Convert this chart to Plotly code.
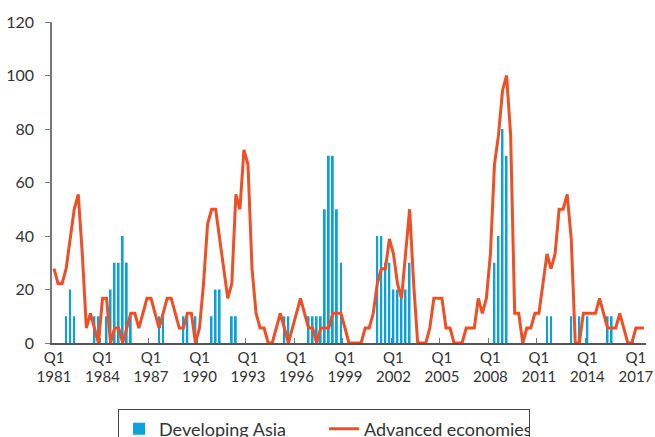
import plotly.graph_objects as go

# Quarterly categories 1981Q1 .. 2017Q3
quarters = [f"Q{q}<br>{y}" for y in range(1981, 2018) for q in range(1, 5)][:147]

# Advanced economies (share of economies, %), one row per 3 years
advanced = [
    27.8, 22.2, 22.2, 27.8, 38.9, 50.0, 55.6, 33.3, 5.6, 11.1, 5.6, 0,
    16.7, 16.7, 0, 5.6, 5.6, 0, 5.6, 11.1, 11.1, 5.6, 11.1, 16.7,
    16.7, 11.1, 5.6, 11.1, 16.7, 16.7, 11.1, 5.6, 5.6, 11.1, 11.1, 0,
    5.6, 22.2, 44.4, 50.0, 50.0, 38.9, 27.8, 16.7, 22.2, 55.6, 50.0, 72.2,
    66.7, 27.8, 11.1, 5.6, 5.6, 0, 0, 5.6, 11.1, 5.6, 0, 5.6,
    11.1, 16.7, 11.1, 5.6, 5.6, 0, 5.6, 5.6, 5.6, 11.1, 11.1, 11.1,
    5.6, 0, 0, 0, 0, 5.6, 5.6, 11.1, 22.2, 27.8, 27.8, 38.9,
    33.3, 22.2, 16.7, 33.3, 50.0, 22.2, 0, 0, 0, 5.6, 16.7, 16.7,
    16.7, 5.6, 5.6, 0, 0, 0, 5.6, 5.6, 5.6, 16.7, 11.1, 16.7,
    33.3, 66.7, 77.8, 94.4, 100.0, 77.8, 11.1, 11.1, 0, 5.6, 5.6, 11.1,
    11.1, 22.2, 33.3, 27.8, 33.3, 50.0, 50.0, 55.6, 38.9, 0, 0, 11.1,
    11.1, 11.1, 11.1, 16.7, 11.1, 5.6, 5.6, 5.6, 11.1, 5.6, 0, 0,
    5.6, 5.6, 5.6,
]

# Developing Asia (share of economies, %)
developing_asia = [
    0, 0, 0, 10, 20, 10, 0, 0, 0, 0, 10, 10,
    0, 10, 20, 30, 30, 40, 30, 10, 0, 0, 0, 0,
    0, 0, 10, 10, 0, 0, 0, 0, 10, 10, 0, 10,
    0, 0, 0, 10, 20, 20, 0, 0, 10, 10, 0, 0,
    0, 0, 0, 0, 0, 0, 0, 0, 0, 10, 10, 0,
    0, 0, 0, 10, 10, 10, 10, 50, 70, 70, 50, 30,
    0, 0, 0, 0, 0, 0, 0, 0, 40, 40, 30, 30,
    20, 20, 20, 20, 30, 0, 0, 0, 0, 0, 0, 0,
    0, 0, 0, 0, 0, 0, 0, 0, 0, 0, 0, 0,
    0, 30, 40, 80, 70, 0, 0, 0, 0, 0, 0, 0,
    0, 0, 10, 10, 0, 0, 0, 0, 10, 0, 10, 0,
    10, 0, 0, 0, 0, 10, 10, 0, 0, 0, 0, 0,
    0, 0, 0,
]

y_ticks = [0, 20, 40, 60, 80, 100, 120]

FONT = "Lato, 'Open Sans', sans-serif"
TEXT = "#333333"

fig = go.Figure()
fig.add_trace(go.Bar(
    x=quarters, y=developing_asia, name="Developing Asia",
    marker=dict(color="#0aa2da", line=dict(width=0)), width=0.45,
))
fig.add_trace(go.Scatter(
    x=quarters, y=advanced, name="Advanced economies", mode="lines",
    line=dict(color="#ee4f24", width=3),
))

fig.update_layout(
    width=655, height=437,
    margin=dict(l=52, r=9, t=22, b=94, autoexpand=False),
    paper_bgcolor="white", plot_bgcolor="white",
    font=dict(family=FONT, size=16, color=TEXT),
    showlegend=True,
    legend=dict(
        orientation="h", x=0.458, xanchor="center", y=-0.207, yanchor="top",
        bordercolor="#444444", borderwidth=1, font=dict(size=18, color=TEXT),
        traceorder="normal", itemwidth=30,
        entrywidth=160, entrywidthmode="pixels",
    ),
)
fig.update_xaxes(
    type="category", range=[-0.5, len(quarters) - 0.5],
    tickmode="linear", tick0=0, dtick=12, tickson="boundaries",
    ticks="inside", ticklen=5, tickcolor="#777777", tickangle=0,
    showline=True, linecolor="#555555", linewidth=1.5,
    showgrid=False, zeroline=False, automargin=False,
    tickfont=dict(size=15, color=TEXT),
)
fig.update_yaxes(
    range=[0, 120], tickvals=y_ticks,
    ticks="outside", ticklen=5, tickcolor="#777777",
    ticklabelstandoff=8,
    showline=True, linecolor="#777777", linewidth=1.5,
    showgrid=False, zeroline=False, automargin=False,
    tickfont=dict(size=16, color=TEXT),
)

# remove the page's default body margin and scrollbars so the figure fills the window
page_css = (
    "document.body.style.margin='0';"
    "document.body.style.overflow='hidden';"
    "document.documentElement.style.overflow='hidden';"
)

fig.write_html("out.html", post_script=page_css,
               config={"displayModeBar": False})
